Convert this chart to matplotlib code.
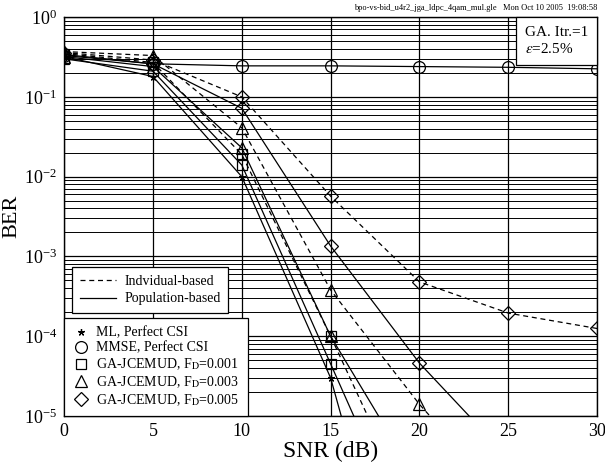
import matplotlib
matplotlib.use("Agg")
import matplotlib.pyplot as plt
from matplotlib.lines import Line2D
from matplotlib.ticker import LogLocator, NullFormatter

plt.rcParams['font.family'] = ['Liberation Serif', 'DejaVu Serif']
plt.rcParams['mathtext.fontset'] = 'stix'

snr = [0, 5, 10, 15, 20, 25, 30]

ml_snr = [0, 5, 10, 15, 20]
ml_ber = [0.32, 0.18, 0.010, 3.0e-5, 3e-9]

mmse_snr = [0, 5, 10, 15, 20, 25, 30]
mmse_ber = [0.33, 0.26, 0.245, 0.245, 0.24, 0.235, 0.225]

# Individual-based (dashed)
sq_ind_snr = [0, 5, 10, 15, 20]
sq_ind_ber = [0.35, 0.27, 0.019, 1.0e-4, 4e-7]
tri_ind_snr = [0, 5, 10, 15, 20, 25]
tri_ind_ber = [0.37, 0.33, 0.041, 3.8e-4, 1.4e-5, 8e-7]
dia_ind_snr = [0, 5, 10, 15, 20, 25, 30]
dia_ind_ber = [0.36, 0.29, 0.10, 5.7e-3, 4.8e-4, 1.95e-4, 1.25e-4]

# Population-based (solid)
sq_pop_snr = [0, 5, 10, 15, 20]
sq_pop_ber = [0.30, 0.21, 0.014, 4.5e-5, 1.4e-7]
tri_pop_snr = [0, 5, 10, 15, 20]
tri_pop_ber = [0.32, 0.24, 0.023, 1.0e-4, 1.4e-6]
dia_pop_snr = [0, 5, 10, 15, 20, 25]
dia_pop_ber = [0.34, 0.26, 0.072, 1.35e-3, 4.6e-5, 3e-6]

labels = ['ML, Perfect CSI', 'MMSE, Perfect CSI',
          r'GA-JCEMUD, F$_{\rm D}$=0.001', r'GA-JCEMUD, F$_{\rm D}$=0.003',
          r'GA-JCEMUD, F$_{\rm D}$=0.005']
style_labels = ['Indvidual-based', 'Population-based']

fig = plt.figure(figsize=(6.05, 4.63), dpi=100)
ax = fig.add_axes([0.106, 0.1015, 0.881, 0.8615])

lw = 0.9
mk = dict(markerfacecolor='none', markeredgecolor='black', markeredgewidth=0.9, color='black', lw=lw)
ax.plot(ml_snr, ml_ber, '-', marker=(5, 2, 0), ms=5, **mk)
ax.plot(mmse_snr, mmse_ber, '-', marker='o', ms=8.5, **mk)
ax.plot(sq_ind_snr, sq_ind_ber, '--', marker='s', ms=7.5, dashes=(4, 3), **mk)
ax.plot(tri_ind_snr, tri_ind_ber, '--', marker='^', ms=8, dashes=(4, 3), **mk)
ax.plot(dia_ind_snr, dia_ind_ber, '--', marker='D', ms=7, dashes=(4, 3), **mk)
ax.plot(sq_pop_snr, sq_pop_ber, '-', marker='s', ms=7.5, **mk)
ax.plot(tri_pop_snr, tri_pop_ber, '-', marker='^', ms=8, **mk)
ax.plot(dia_pop_snr, dia_pop_ber, '-', marker='D', ms=7, **mk)

ax.set_yscale('log')
ax.set_xlim(0, 30)
ax.set_ylim(1e-5, 1)
ax.set_xticks(snr)
ax.yaxis.set_major_locator(LogLocator(base=10, numticks=10))
ax.yaxis.set_minor_locator(LogLocator(base=10, subs=range(2, 10), numticks=100))
ax.yaxis.set_minor_formatter(NullFormatter())
ax.grid(True, which='major', axis='both', color='black', lw=0.9)
ax.grid(True, which='minor', axis='y', color='black', lw=0.7)
ax.tick_params(which='both', length=0, labelsize=13, pad=5)
for s in ax.spines.values():
    s.set_linewidth(1.0)

ax.set_xlabel('SNR (dB)', fontsize=17, labelpad=1)
ax.set_ylabel('BER', fontsize=16, labelpad=2)

h1 = [Line2D([], [], color='black', lw=lw, ls='--', dashes=(4, 3)),
      Line2D([], [], color='black', lw=lw, ls='-')]
leg1 = ax.legend(h1, style_labels, loc='lower left', bbox_to_anchor=(0.015, 0.258),
                 fontsize=10, frameon=True, fancybox=False, edgecolor='black',
                 framealpha=1, handlelength=2.6, handletextpad=0.6, borderaxespad=0,
                 labelspacing=0.35, borderpad=0.55)
leg1.get_frame().set_linewidth(0.9)
ax.add_artist(leg1)

mkr = [((5, 2, 0), 5), ('o', 8.5), ('s', 7.5), ('^', 8), ('D', 7)]
h2 = [Line2D([], [], ls='none', marker=m, ms=s, markerfacecolor='none',
             markeredgecolor='black', markeredgewidth=0.9) for m, s in mkr]
leg2 = ax.legend(h2, labels, loc='lower left', bbox_to_anchor=(0.0, 0.0),
                 fontsize=10, frameon=True, fancybox=False, edgecolor='black',
                 framealpha=1, handlelength=1.2, handletextpad=0.5, borderaxespad=0,
                 labelspacing=0.15, borderpad=0.6)
leg2.get_frame().set_linewidth(0.9)

pad_px = 9.2
ax.text(1 - pad_px / 533, 1 - pad_px / 399, 'GA. Itr.=1\n$\\epsilon$=2.5%', transform=ax.transAxes,
        ha='right', va='top', multialignment='left', fontsize=11, linespacing=1.2,
        bbox=dict(boxstyle='square,pad=0.6', fc='white', ec='black', lw=0.9), zorder=5)

fig.text(0.987, 0.975, 'bpo-vs-bid_u4r2_jga_ldpc_4qam_mul.gle   Mon Oct 10 2005  19:08:58',
         ha='right', va='bottom', fontsize=6)

fig.savefig('out.png', dpi=100)
